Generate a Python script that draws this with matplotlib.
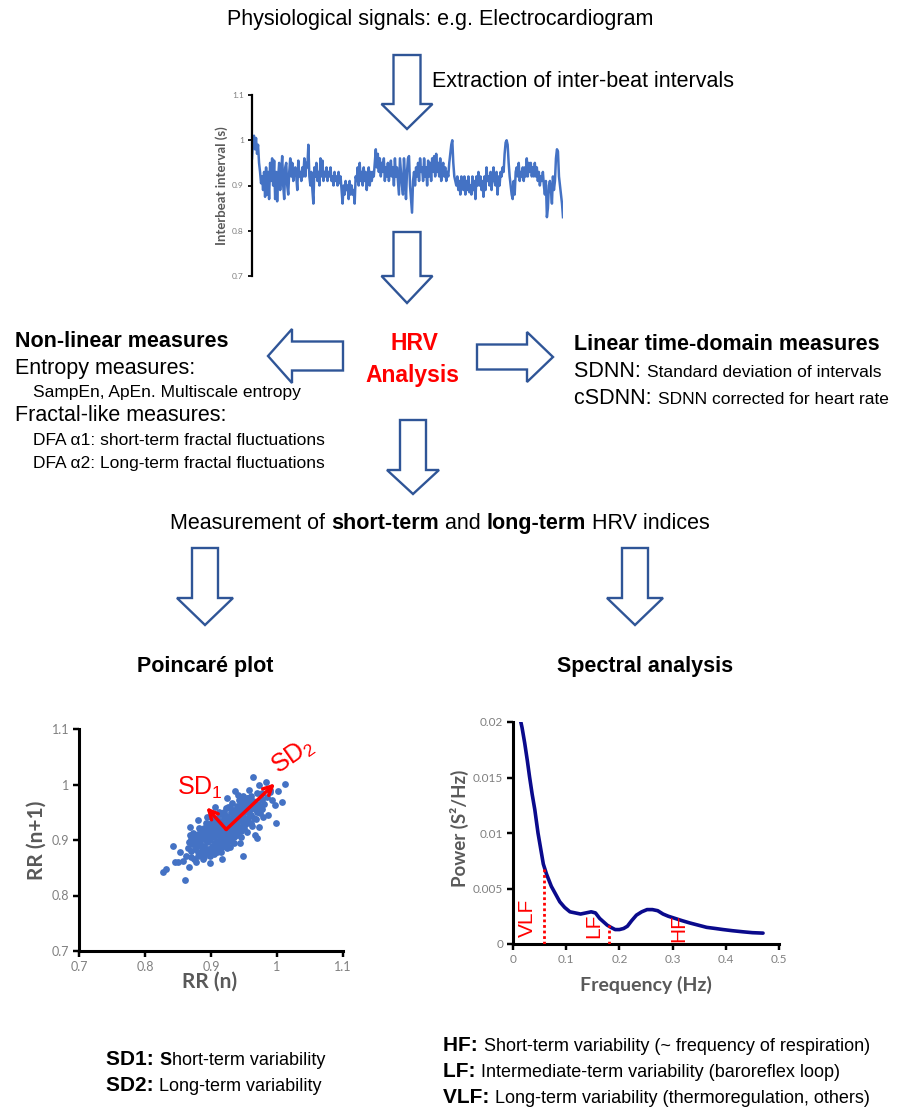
import numpy as np
import matplotlib
matplotlib.use("Agg")
import matplotlib.pyplot as plt
from matplotlib.patches import Polygon

W, H = 913, 1111

# ---- data ----
interbeat_s = [
    0.96, 1.00, 1.01, 0.98, 1.005, 0.97, 0.99, 0.95, 0.93, 0.905, 0.92, 0.89, 0.93, 0.875, 0.94, 0.88, 0.93, 0.87, 0.95, 0.91,
    0.96, 0.90, 0.955, 0.87, 0.93, 0.865, 0.92, 0.95, 0.89, 0.93, 0.965, 0.90, 0.87, 0.94, 0.95, 0.90, 0.88, 0.93, 0.96, 0.92,
    0.95, 0.91, 0.93, 0.94, 0.92, 0.89, 0.955, 0.92, 0.93, 0.91, 0.94, 0.92, 0.96, 0.92, 0.95, 0.94, 0.99, 0.92, 0.90, 0.93,
    0.89, 0.86, 0.94, 0.92, 0.95, 0.91, 0.93, 0.90, 0.96, 0.92, 0.955, 0.91, 0.93, 0.92, 0.94, 0.91, 0.93, 0.92, 0.94, 0.91,
    0.92, 0.90, 0.93, 0.91, 0.92, 0.90, 0.93, 0.905, 0.92, 0.89, 0.86, 0.90, 0.88, 0.91, 0.89, 0.90, 0.87, 0.91, 0.88, 0.90,
    0.88, 0.89, 0.86, 0.92, 0.91, 0.94, 0.90, 0.95, 0.91, 0.93, 0.90, 0.94, 0.91, 0.93, 0.89, 0.92, 0.94, 0.90, 0.93, 0.91,
    0.93, 0.92, 0.95, 0.98, 0.94, 0.97, 0.93, 0.96, 0.92, 0.95, 0.93, 0.96, 0.91, 0.94, 0.92, 0.95, 0.91, 0.93, 0.955, 0.92,
    0.94, 0.90, 0.96, 0.92, 0.94, 0.91, 0.88, 0.96, 0.93, 0.90, 0.88, 0.96, 0.92, 0.87, 0.93, 0.96, 0.965, 0.90, 0.87, 0.84,
    0.91, 0.93, 0.90, 0.94, 0.92, 0.95, 0.91, 0.96, 0.93, 0.94, 0.91, 0.96, 0.92, 0.94, 0.90, 0.955, 0.92, 0.95, 0.91, 0.96,
    0.93, 0.965, 0.92, 0.97, 0.93, 0.95, 0.92, 0.96, 0.91, 0.94, 0.95, 0.92, 0.94, 0.91, 0.93, 0.92, 0.95, 0.97, 0.99, 1.00,
    0.95, 0.92, 0.91, 0.90, 0.92, 0.89, 0.91, 0.88, 0.92, 0.90, 0.89, 0.92, 0.88, 0.91, 0.89, 0.92, 0.885, 0.90, 0.88, 0.92,
    0.89, 0.91, 0.87, 0.92, 0.90, 0.93, 0.90, 0.92, 0.89, 0.91, 0.875, 0.92, 0.89, 0.94, 0.91, 0.92, 0.90, 0.93, 0.89, 0.92,
    0.94, 0.91, 0.90, 0.93, 0.88, 0.92, 0.90, 0.93, 0.92, 0.94, 0.93, 0.97, 0.995, 1.00, 0.99, 0.95, 0.92, 0.90, 0.88, 0.87,
    0.91, 0.88, 0.93, 0.94, 0.92, 0.95, 0.91, 0.93, 0.92, 0.94, 0.91, 0.94, 0.92, 0.96, 0.92, 0.95, 0.93, 0.95, 0.92, 0.94,
    0.92, 0.95, 0.92, 0.94, 0.91, 0.93, 0.90, 0.92, 0.91, 0.93, 0.90, 0.88, 0.91, 0.83, 0.85, 0.90, 0.91, 0.89, 0.86, 0.92,
    0.89, 0.91, 0.96, 0.98, 0.975, 0.92, 0.90, 0.88, 0.86, 0.83,
]
rr_ticks = [0.7, 0.8, 0.9, 1.0, 1.1]
rr_ticklabels = ["0.7", "0.8", "0.9", "1", "1.1"]

# Poincare plot: (RR(n), RR(n+1)) pairs
rr_outer = [
    (0.828, 0.843), (0.832, 0.848), (0.861, 0.828), (0.843, 0.889), (0.845, 0.861), (0.850, 0.861),
    (0.866, 0.852), (0.898, 0.859), (0.868, 0.924), (0.853, 0.879), (0.949, 0.871), (0.916, 0.865),
    (0.969, 0.903), (0.999, 0.931), (0.987, 0.945), (0.997, 0.963), (1.012, 1.001), (1.002, 0.989),
    (0.984, 1.005), (0.964, 1.013), (0.972, 0.999), (0.936, 0.989), (0.924, 0.975), (0.906, 0.959),
    (0.894, 0.942), (0.881, 0.936), (0.868, 0.909), (0.977, 0.955), (0.992, 0.972), (0.954, 0.975),
    (0.878, 0.897), (0.886, 0.876), (0.909, 0.879), (0.929, 0.888), (0.944, 0.894), (0.967, 0.909),
    (0.972, 0.924), (0.979, 0.942), (0.989, 0.987), (1.007, 0.969), (0.941, 0.981), (0.926, 0.960),
    (0.952, 0.966), (0.977, 0.972),
]
rr_core = [
    (0.870, 0.870), (0.870, 0.880), (0.871, 0.892), (0.869, 0.901),
    (0.875, 0.866), (0.876, 0.884), (0.874, 0.895), (0.876, 0.906),
    (0.880, 0.871), (0.881, 0.879), (0.879, 0.890), (0.880, 0.899), (0.881, 0.911),
    (0.885, 0.874), (0.886, 0.886), (0.884, 0.894), (0.885, 0.905), (0.886, 0.914),
    (0.890, 0.870), (0.891, 0.881), (0.889, 0.889), (0.890, 0.901), (0.891, 0.909), (0.890, 0.921),
    (0.895, 0.876), (0.896, 0.884), (0.894, 0.896), (0.895, 0.904), (0.896, 0.916), (0.895, 0.925),
    (0.900, 0.879), (0.901, 0.890), (0.899, 0.900), (0.900, 0.911), (0.901, 0.919), (0.900, 0.931),
    (0.905, 0.886), (0.906, 0.894), (0.904, 0.906), (0.905, 0.914), (0.906, 0.926), (0.905, 0.934),
    (0.910, 0.880), (0.911, 0.891), (0.909, 0.899), (0.910, 0.911), (0.911, 0.919), (0.910, 0.931), (0.909, 0.940),
    (0.915, 0.886), (0.916, 0.894), (0.914, 0.906), (0.915, 0.914), (0.916, 0.926), (0.915, 0.934), (0.914, 0.946),
    (0.920, 0.889), (0.921, 0.901), (0.919, 0.909), (0.920, 0.921), (0.921, 0.929), (0.920, 0.941), (0.919, 0.950),
    (0.925, 0.896), (0.926, 0.904), (0.924, 0.916), (0.925, 0.924), (0.926, 0.936), (0.925, 0.944),
    (0.930, 0.899), (0.931, 0.911), (0.929, 0.919), (0.930, 0.931), (0.931, 0.939), (0.930, 0.951), (0.929, 0.960),
    (0.935, 0.906), (0.936, 0.914), (0.934, 0.926), (0.935, 0.934), (0.936, 0.946), (0.935, 0.954),
    (0.940, 0.909), (0.941, 0.921), (0.939, 0.929), (0.940, 0.941), (0.941, 0.949), (0.940, 0.961),
    (0.945, 0.916), (0.946, 0.924), (0.944, 0.936), (0.945, 0.944), (0.946, 0.956), (0.945, 0.964),
    (0.950, 0.921), (0.951, 0.929), (0.949, 0.941), (0.950, 0.951), (0.951, 0.959), (0.950, 0.971),
    (0.955, 0.931), (0.956, 0.940), (0.954, 0.951), (0.955, 0.960), (0.956, 0.975),
    (0.960, 0.931), (0.961, 0.945), (0.959, 0.955), (0.960, 0.966), (0.961, 0.980),
    (0.965, 0.940), (0.966, 0.955), (0.964, 0.970),
    (0.970, 0.950), (0.971, 0.965), (0.969, 0.985),
    (0.975, 0.960), (0.976, 0.975),
    (0.883, 0.900), (0.893, 0.912), (0.903, 0.922), (0.913, 0.930), (0.923, 0.940), (0.933, 0.948),
    (0.943, 0.956), (0.953, 0.966), (0.963, 0.962), (0.958, 0.948), (0.948, 0.932), (0.938, 0.920),
    (0.928, 0.910), (0.918, 0.898), (0.908, 0.888), (0.898, 0.872), (0.888, 0.866), (0.878, 0.860),
    (0.872, 0.912), (0.882, 0.922), (0.892, 0.930), (0.902, 0.940), (0.912, 0.950), (0.922, 0.958),
    (0.932, 0.966), (0.942, 0.972), (0.962, 0.925), (0.968, 0.938), (0.975, 0.948), (0.980, 0.965),
    (0.985, 0.978), (0.990, 0.990), (0.978, 0.985), (0.958, 0.990), (0.948, 0.980), (0.865, 0.885),
    (0.862, 0.872), (0.858, 0.862), (0.866, 0.896), (0.905, 0.875), (0.915, 0.878), (0.925, 0.885),
    (0.935, 0.895), (0.945, 0.905), (0.955, 0.915),
]
sd_center = (0.923, 0.919)
sd1_end = (0.893, 0.959)
sd2_end = (0.997, 1.002)

# Spectral density
freq_hz = [0.012, 0.017, 0.022, 0.027, 0.031, 0.036, 0.041, 0.047, 0.052, 0.057, 0.063, 0.072,
           0.080, 0.088, 0.097, 0.107, 0.117, 0.127, 0.137, 0.147, 0.155, 0.163, 0.170, 0.177,
           0.184, 0.192, 0.200, 0.208, 0.215, 0.223, 0.232, 0.242, 0.252, 0.262, 0.272, 0.282,
           0.292, 0.305, 0.318, 0.332, 0.348, 0.364, 0.380, 0.395, 0.412, 0.432, 0.450, 0.470]
power = [0.0206, 0.0195, 0.0181, 0.0165, 0.0151, 0.0135, 0.0121, 0.0100, 0.0086, 0.0072, 0.0063, 0.0052,
         0.0045, 0.0038, 0.0033, 0.0029, 0.0028, 0.0027, 0.0028, 0.0029, 0.0028, 0.0023, 0.0020, 0.0017,
         0.0015, 0.0013, 0.0013, 0.0014, 0.0016, 0.0021, 0.0026, 0.0029, 0.0031, 0.0031, 0.0030, 0.0027,
         0.0025, 0.0023, 0.0021, 0.0019, 0.0017, 0.0015, 0.0014, 0.0013, 0.0012, 0.0011, 0.00102, 0.00098]
freq_ticks = [0, 0.1, 0.2, 0.3, 0.4, 0.5]
freq_ticklabels = ["0", "0.1", "0.2", "0.3", "0.4", "0.5"]
power_ticks = [0, 0.005, 0.01, 0.015, 0.02]
power_ticklabels = ["0", "0.005", "0.01", "0.015", "0.02"]
band_edges = [0.058, 0.180]
band_edge_tops = [0.0069, 0.0017]
band_names = ["VLF", "LF", "HF"]
band_name_f = [0.027, 0.152, 0.311]
band_name_p = [0.0006, 0.0005, 0.0002]

# ---- styles ----
plt.rcParams["font.family"] = ["Liberation Sans", "DejaVu Sans"]
plt.rcParams["mathtext.fontset"] = "custom"
plt.rcParams["mathtext.rm"] = "Liberation Sans"
PLOT_FONT = ["Lato", "DejaVu Sans"]
ARROW_C = "#2f5597"
DOT_C = "#4472c4"
GREY_LBL = "#595959"
GREY_TICK = "#808080"

fig = plt.figure(figsize=(W / 100, H / 100), dpi=100)


def px_axes(x0, y0, x1, y1):
    return fig.add_axes([x0 / W, 1 - y1 / H, (x1 - x0) / W, (y1 - y0) / H])


def style_axes(ax, bottom=True, lw=2.0, tsize=9):
    ax.set_facecolor("none")
    for s in ["top", "right"]:
        ax.spines[s].set_visible(False)
    ax.spines["left"].set_linewidth(lw)
    ax.spines["bottom"].set_linewidth(lw)
    if not bottom:
        ax.spines["bottom"].set_visible(False)
        ax.set_xticks([])
    ax.tick_params(direction="out", length=4, width=lw * 0.8, labelsize=tsize,
                   labelcolor=GREY_TICK, pad=3)
    for lbl in ax.get_xticklabels() + ax.get_yticklabels():
        lbl.set_family(PLOT_FONT)


# interbeat interval series
ax_ts = px_axes(252, 95, 563, 276)
ax_ts.plot(np.arange(len(interbeat_s)), interbeat_s, color=DOT_C, lw=1.8)
ax_ts.set_xlim(0, len(interbeat_s) - 1)
ax_ts.set_ylim(0.7, 1.1)
ax_ts.set_yticks(rr_ticks, rr_ticklabels)
style_axes(ax_ts, bottom=False, lw=1.6, tsize=6)
ax_ts.tick_params(length=3)

# Poincare plot
rr_all = np.array(rr_outer + rr_core)
ax_p = px_axes(79, 729, 343, 951)
ax_p.scatter(rr_all[:, 0], rr_all[:, 1], s=24, color=DOT_C, linewidths=0, zorder=2)
ax_p.set_xlim(0.7, 1.1)
ax_p.set_ylim(0.7, 1.1)
ax_p.set_xticks(rr_ticks, rr_ticklabels)
ax_p.set_yticks(rr_ticks, rr_ticklabels)
style_axes(ax_p, lw=2.2)
for end in (sd1_end, sd2_end):
    ax_p.annotate("", xy=end, xytext=sd_center,
                  arrowprops=dict(arrowstyle="->", color="red", lw=2.5, mutation_scale=16,
                                  shrinkA=0, shrinkB=0), zorder=3)
ax_p.text(0.849, 0.981, r"SD$_\mathregular{1}$", color="red", fontsize=18, va="baseline", ha="left")
ax_p.text(1.025, 1.052, r"SD$_\mathregular{2}$", color="red", fontsize=18, va="center", ha="center",
          rotation=35, rotation_mode="anchor")

# spectral plot
ax_s = px_axes(513, 722, 779, 944)
ax_s.plot(freq_hz, power, color="#0a0a8c", lw=2.6, solid_capstyle="round", zorder=2)
for f, top in zip(band_edges, band_edge_tops):
    ax_s.plot([f, f], [0, top], color="red", lw=2, ls=(0, (1, 1)), zorder=3)
for name, f, p in zip(band_names, band_name_f, band_name_p):
    ax_s.text(f, p, name, color="red", fontsize=15, rotation=90, ha="center", va="bottom", zorder=4)
ax_s.set_xlim(0, 0.5)
ax_s.set_ylim(0, 0.02)
ax_s.set_xticks(freq_ticks, freq_ticklabels)
ax_s.set_yticks(power_ticks, power_ticklabels)
style_axes(ax_s, lw=2.2, tsize=8.5)

# ---- overlay for arrows and text (pixel coordinates) ----
ov = fig.add_axes([0, 0, 1, 1])
ov.set_xlim(0, W)
ov.set_ylim(H, 0)
ov.axis("off")


def down_arrow(cx, top, tip, shaft_hw, head_hw, head_len):
    base = tip - head_len
    pts = [(cx - shaft_hw, top), (cx + shaft_hw, top), (cx + shaft_hw, base), (cx + head_hw, base),
           (cx, tip), (cx - head_hw, base), (cx - shaft_hw, base)]
    ov.add_patch(Polygon(pts, closed=True, fc="white", ec=ARROW_C, lw=1.7, joinstyle="miter", zorder=1))


def side_arrow(cy, tail, tip, shaft_hw, head_hw, head_len):
    d = 1 if tip > tail else -1
    base = tip - d * head_len
    pts = [(tail, cy - shaft_hw), (base, cy - shaft_hw), (base, cy - head_hw), (tip, cy),
           (base, cy + head_hw), (base, cy + shaft_hw), (tail, cy + shaft_hw)]
    ov.add_patch(Polygon(pts, closed=True, fc="white", ec=ARROW_C, lw=1.7, joinstyle="miter", zorder=1))


down_arrow(407, 55, 129, 13.5, 25.5, 25)
down_arrow(407, 232, 303, 13.5, 25.5, 27)
side_arrow(356, 343, 268, 14.5, 27, 24)
side_arrow(357, 477, 553, 12.5, 25, 26)
down_arrow(413, 420, 494, 13, 26, 24)
down_arrow(205, 548, 625, 13, 28, 27)
down_arrow(635, 548, 625, 13, 28, 27)

renderer = fig.canvas.get_renderer()


def run_width(s, **kw):
    t1 = ov.text(0, 0, s + "|", **kw)
    w1 = t1.get_window_extent(renderer).width
    t1.remove()
    t2 = ov.text(0, 0, "|", **kw)
    w2 = t2.get_window_extent(renderer).width
    t2.remove()
    return w1 - w2


def runs_text(x, y, runs, ha="left"):
    widths = [run_width(s, **kw) for s, kw in runs]
    if ha == "center":
        x -= sum(widths) / 2
    for (s, kw), w in zip(runs, widths):
        ov.text(x, y, s, va="baseline", ha="left", **kw)
        x += w


BIG = 15.5
SMALL = 12.5
big = dict(fontsize=BIG)
bigb = dict(fontsize=BIG, fontweight="bold")
small = dict(fontsize=SMALL)

ov.text(440, 25, "Physiological signals: e.g. Electrocardiogram", ha="center", va="baseline", **big)
ov.text(432, 87, "Extraction of inter-beat intervals", ha="left", va="baseline", **big)

ov.text(15, 347, "Non-linear measures", ha="left", va="baseline", **bigb)
ov.text(15, 374, "Entropy measures:", ha="left", va="baseline", **big)
ov.text(33, 397, "SampEn, ApEn. Multiscale entropy", ha="left", va="baseline", **small)
ov.text(15, 421, "Fractal-like measures:", ha="left", va="baseline", **big)
ov.text(33, 445, "DFA \u03b11: short-term fractal fluctuations", ha="left", va="baseline", **small)
ov.text(33, 468, "DFA \u03b12: Long-term fractal fluctuations", ha="left", va="baseline", **small)

ov.text(414, 350, "HRV", color="red", ha="center", va="baseline", fontsize=16.5, fontweight="bold")
ov.text(412, 382, "Analysis", color="red", ha="center", va="baseline", fontsize=16.5, fontweight="bold")

ov.text(574, 350, "Linear time-domain measures", ha="left", va="baseline", **bigb)
runs_text(574, 377, [("SDNN: ", big), ("Standard deviation of intervals", small)])
runs_text(574, 404, [("cSDNN: ", big), ("SDNN corrected for heart rate", small)])

runs_text(440, 529, [("Measurement of ", big), ("short-term", bigb), (" and ", big),
                     ("long-term", bigb), (" HRV indices", big)], ha="center")

ov.text(205, 672, "Poincar\u00e9 plot", ha="center", va="baseline", **bigb)
ov.text(645, 672, "Spectral analysis", ha="center", va="baseline", **bigb)

# axis labels
ov.text(222, 186, "Interbeat interval (s)", rotation=90, ha="center", va="center",
        family=PLOT_FONT, fontsize=9.5, fontweight="bold", color=GREY_LBL)
ov.text(37, 840, "RR (n+1)", rotation=90, ha="center", va="center",
        family=PLOT_FONT, fontsize=15, fontweight="bold", color=GREY_LBL)
ov.text(210, 982, "RR (n)", ha="center", va="center",
        family=PLOT_FONT, fontsize=15, fontweight="bold", color=GREY_LBL)
ov.text(459, 828, "Power (S\u00b2/Hz)", rotation=90, ha="center", va="center",
        family=PLOT_FONT, fontsize=13.5, fontweight="bold", color=GREY_LBL)
ov.text(646, 985, "Frequency (Hz)", ha="center", va="center",
        family=PLOT_FONT, fontsize=14, fontweight="bold", color=GREY_LBL)

# legends under the plots
lab = dict(fontsize=15, fontweight="bold")
desc = dict(fontsize=13)
descb = dict(fontsize=13, fontweight="bold")
runs_text(106, 1065, [("SD1: ", lab), ("S", descb), ("hort-term variability", desc)])
runs_text(106, 1091, [("SD2: ", lab), ("Long-term variability", desc)])
runs_text(443, 1051, [("HF: ", lab), ("Short-term variability (~ frequency of respiration)", desc)])
runs_text(443, 1077, [("LF: ", lab), ("Intermediate-term variability (baroreflex loop)", desc)])
runs_text(443, 1103, [("VLF: ", lab), ("Long-term variability (thermoregulation, others)", desc)])

fig.savefig("out.png", dpi=100)
